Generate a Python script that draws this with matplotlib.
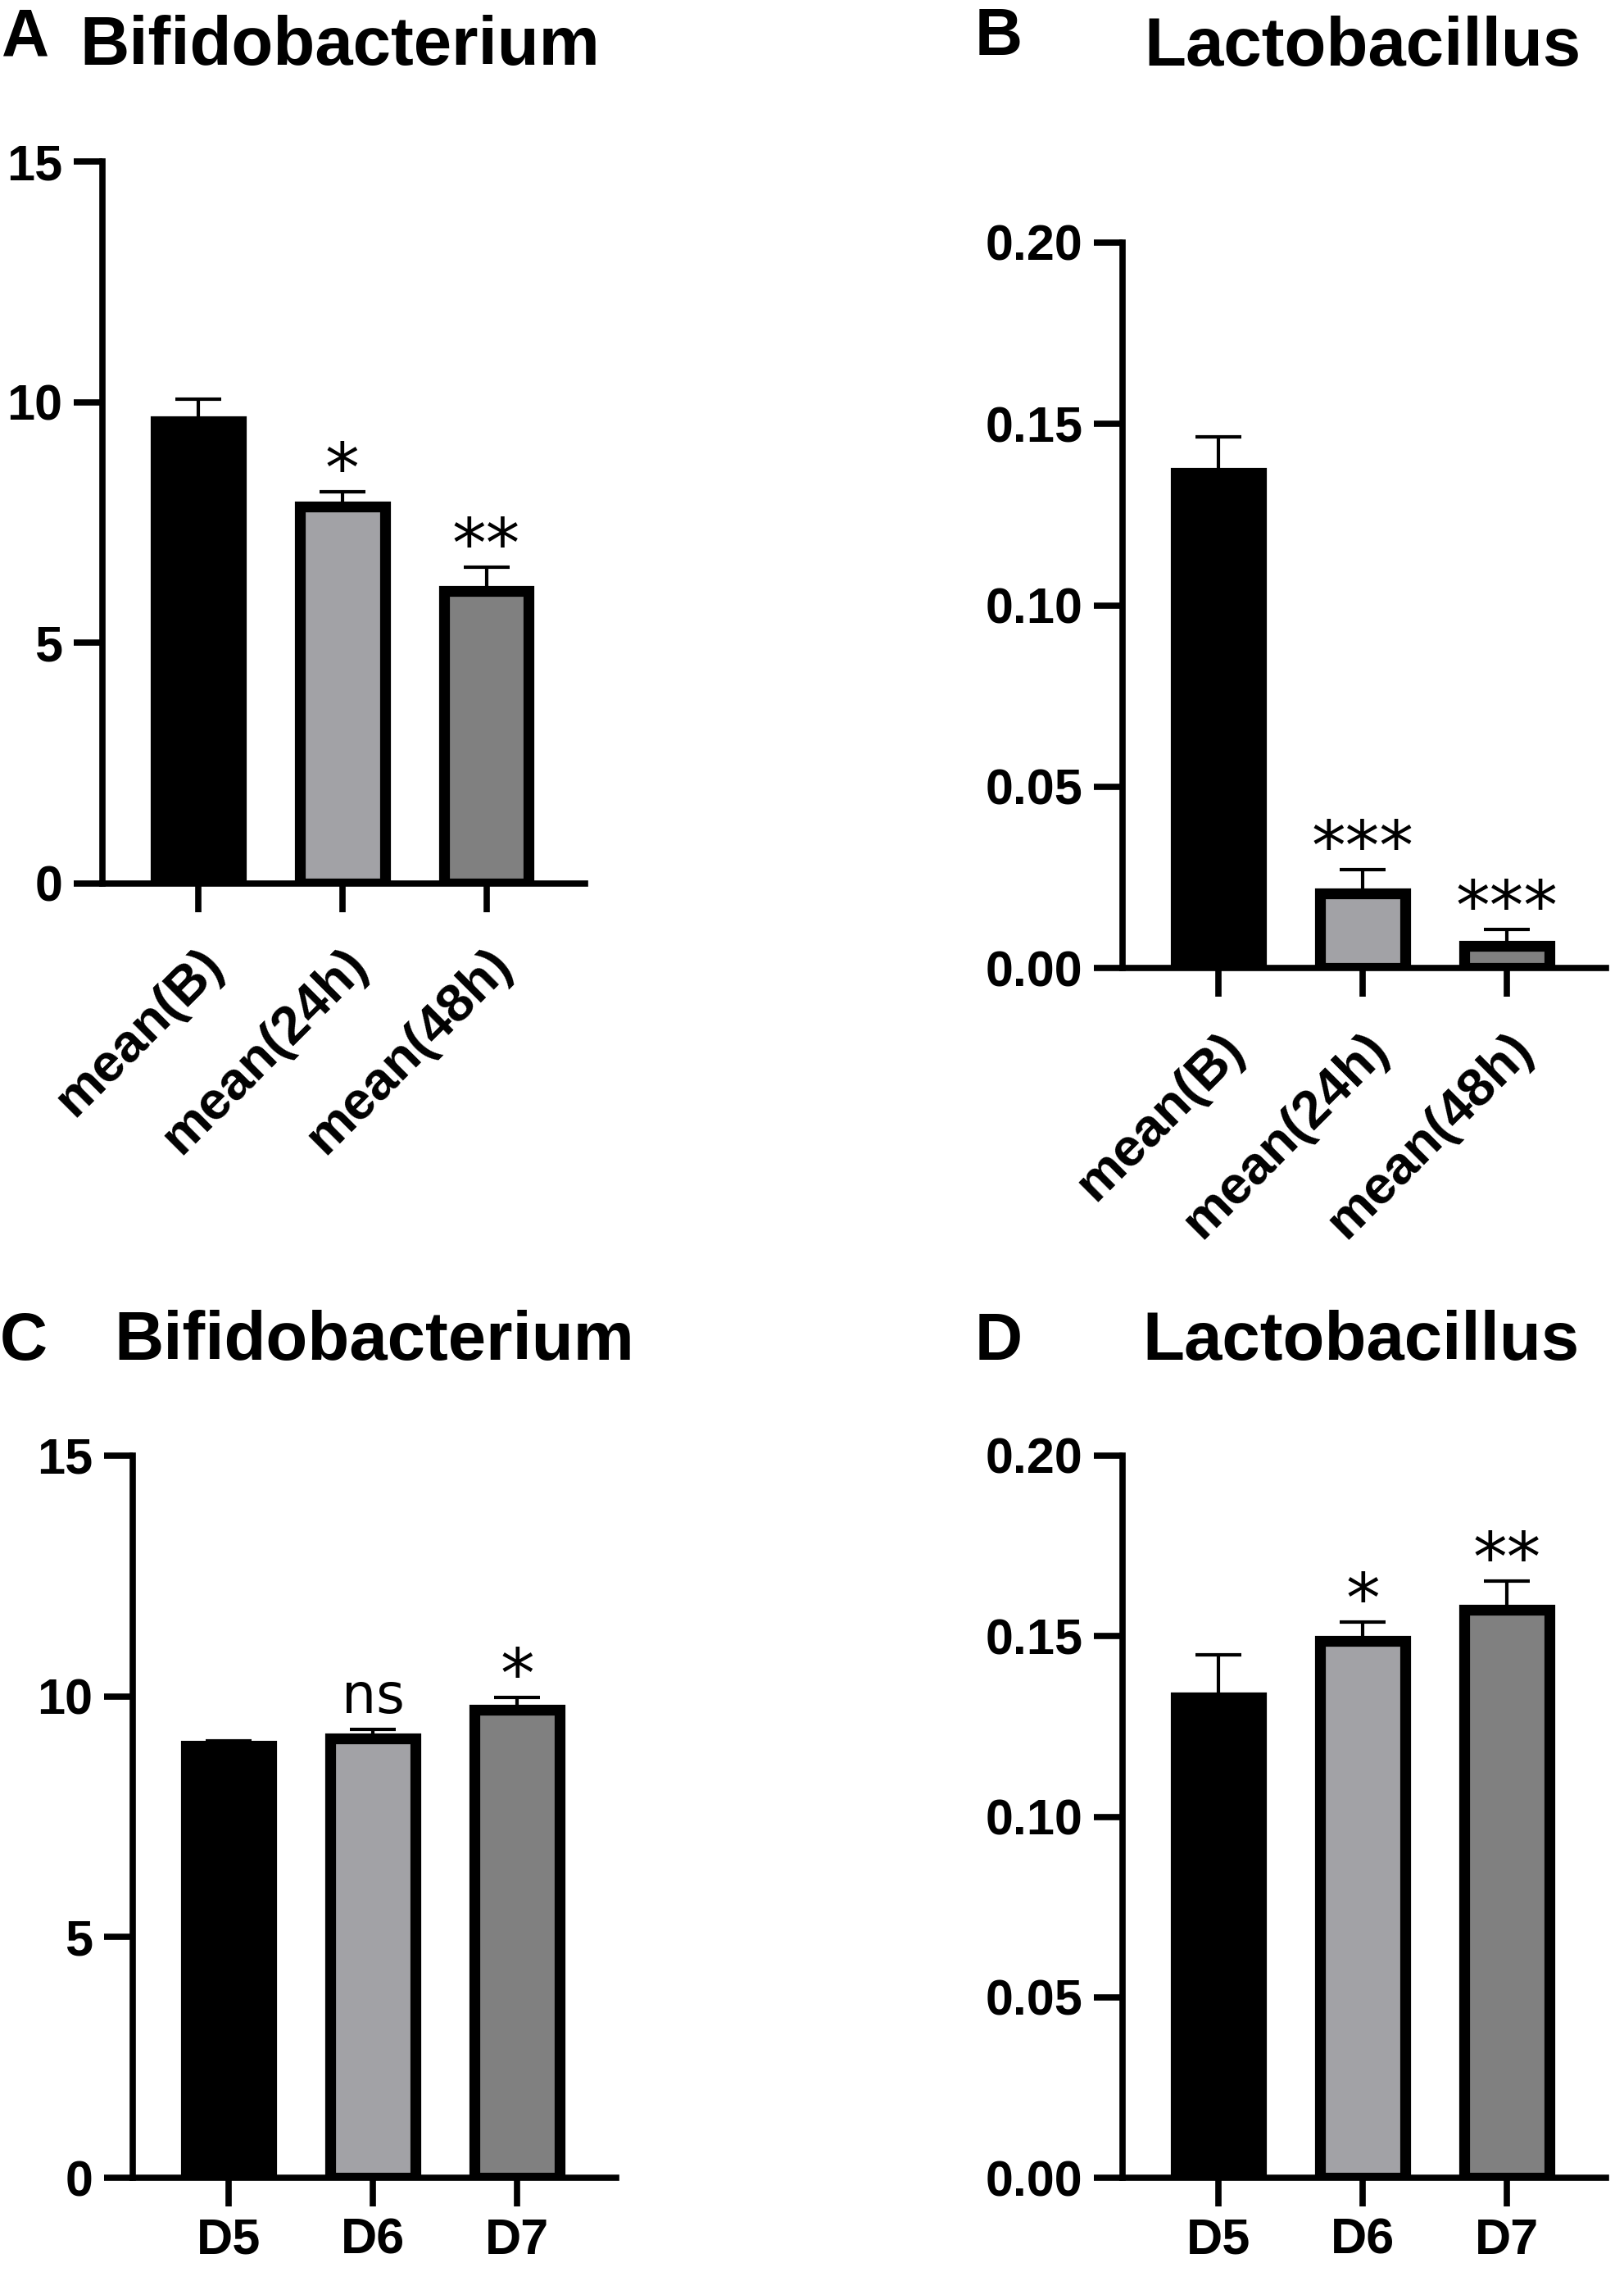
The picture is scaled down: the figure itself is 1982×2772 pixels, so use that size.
import numpy as np
import matplotlib.pyplot as plt

# group labels
time_groups = ['mean(B)', 'mean(24h)', 'mean(48h)']
day_groups = ['D5', 'D6', 'D7']

# panel A - Bifidobacterium over time
bifido_time = [9.60, 7.83, 6.08]
bifido_time_err = [0.47, 0.30, 0.50]
bifido_time_sig = ['', '*', '**']

# panel B - Lactobacillus over time
lacto_time = [0.1365, 0.0206, 0.0060]
lacto_time_err = [0.0099, 0.0065, 0.0046]
lacto_time_sig = ['', '***', '***']

# panel C - Bifidobacterium by day
bifido_day = [8.98, 9.12, 9.72]
bifido_day_err = [0.10, 0.20, 0.25]
bifido_day_sig = ['', 'ns', '*']

# panel D - Lactobacillus by day
lacto_day = [0.1330, 0.1488, 0.1573]
lacto_day_err = [0.0118, 0.0051, 0.0079]
lacto_day_sig = ['', '*', '**']

bar_colors = ['#000000', '#a2a2a6', '#808080']
W, H = 1983, 2772

fig = plt.figure(figsize=(W / 100, H / 100), dpi=100)


def px_axes(x0, y_top, x1, y_bot):
    return fig.add_axes([x0 / W, 1 - y_bot / H, (x1 - x0) / W, (y_bot - y_top) / H])


def draw_panel(ax, labels, vals, errs, sigs, ymax, ystep, fmt, rotate):
    x = np.arange(len(vals))
    ax.bar(x, vals, width=0.59, color=bar_colors, edgecolor='black',
           linewidth=9.5, zorder=2)
    ax.errorbar(x, vals, yerr=[np.zeros(len(errs)), errs], fmt='none',
                ecolor='black', elinewidth=3, capsize=20, capthick=3, zorder=1)
    for xi, v, e, s in zip(x, vals, errs, sigs):
        if not s:
            continue
        if s == 'ns':
            ax.annotate(s, (xi, v + e), xytext=(0, 14), textcoords='offset points',
                        ha='center', va='baseline', fontsize=48, family='DejaVu Sans')
        else:
            ax.annotate(s, (xi, v + e), xytext=(0, 0), textcoords='offset points',
                        ha='center', va='baseline', fontsize=60, family='DejaVu Sans')
    ax.set_xlim(-0.665, 2.685)
    ax.set_ylim(0, ymax)
    ticks = np.arange(0, ymax + ystep / 2, ystep)
    ax.set_yticks(ticks)
    ax.set_yticklabels([fmt.format(t) for t in ticks])
    ax.set_xticks(x)
    for sp in ['top', 'right']:
        ax.spines[sp].set_visible(False)
    for sp in ['left', 'bottom']:
        ax.spines[sp].set_linewidth(5.5)
    ax.tick_params(width=5.5, length=25, pad=10, labelsize=44)
    if rotate:
        ax.set_xticklabels(labels, rotation=45, ha='right', rotation_mode='anchor',
                           fontsize=47)
        ax.tick_params(axis='x', pad=24)
    else:
        ax.set_xticklabels(labels)
    for lab in ax.get_xticklabels() + ax.get_yticklabels():
        lab.set_family('Liberation Sans')
        lab.set_fontweight('bold')


axA = px_axes(125, 197, 714, 1078)
draw_panel(axA, time_groups, bifido_time, bifido_time_err, bifido_time_sig, 15, 5, '{:.0f}', True)

axB = px_axes(1370, 296, 1960, 1181)
draw_panel(axB, time_groups, lacto_time, lacto_time_err, lacto_time_sig, 0.2, 0.05, '{:.2f}', True)

axC = px_axes(162, 1776, 752, 2657)
draw_panel(axC, day_groups, bifido_day, bifido_day_err, bifido_day_sig, 15, 5, '{:.0f}', False)

axD = px_axes(1370, 1776, 1960, 2657)
draw_panel(axD, day_groups, lacto_day, lacto_day_err, lacto_day_sig, 0.2, 0.05, '{:.2f}', False)

# panel letters and titles
title_kw = dict(family='Liberation Sans', fontweight='bold', va='baseline')
fig.text(2 / W, 1 - 67 / H, 'A', fontsize=58, ha='left', **title_kw)
fig.text(415 / W, 1 - 79 / H, 'Bifidobacterium', fontsize=60, ha='center', **title_kw)
fig.text(1190 / W, 1 - 67 / H, 'B', fontsize=58, ha='left', **title_kw)
fig.text(1663 / W, 1 - 80 / H, 'Lactobacillus', fontsize=60, ha='center', **title_kw)
fig.text(0 / W, 1 - 1659 / H, 'C', fontsize=58, ha='left', **title_kw)
fig.text(457 / W, 1 - 1659 / H, 'Bifidobacterium', fontsize=60, ha='center', **title_kw)
fig.text(1190 / W, 1 - 1659 / H, 'D', fontsize=58, ha='left', **title_kw)
fig.text(1661 / W, 1 - 1659 / H, 'Lactobacillus', fontsize=60, ha='center', **title_kw)

fig.savefig('out.png', dpi=100)
